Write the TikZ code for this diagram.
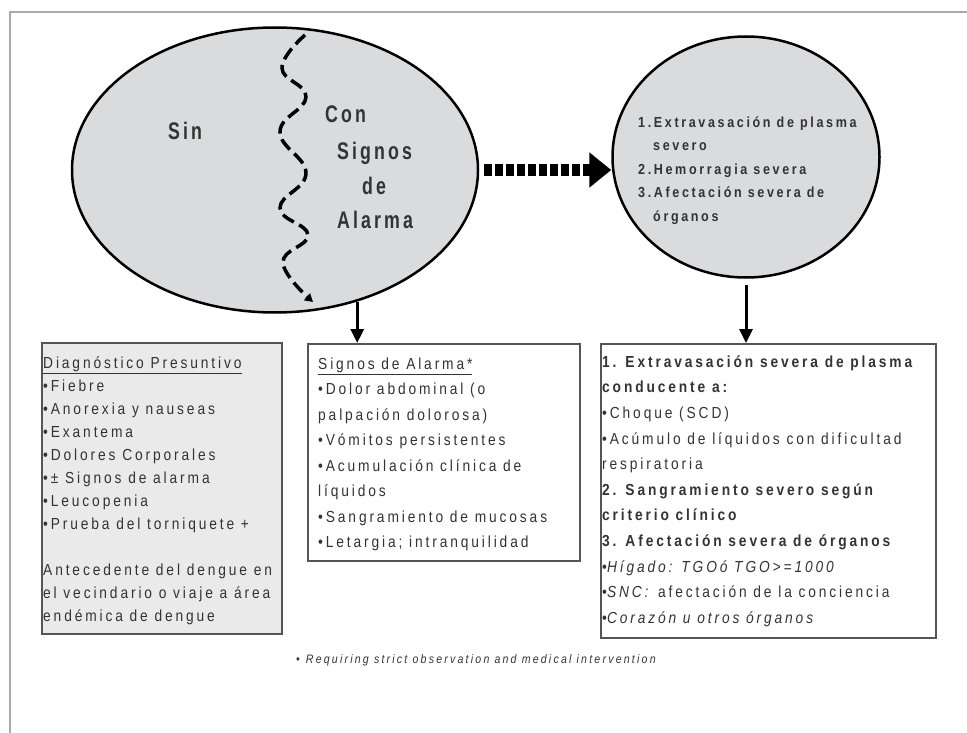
\documentclass[tikz,border=0pt]{standalone}
\usepackage{fontspec}
\usetikzlibrary{shapes.geometric,arrows.meta}
\newfontfamily\nar[FakeStretch=0.86,LetterSpace=18]{Liberation Sans}
\newfontfamily\narL[FakeStretch=0.74,LetterSpace=13]{Liberation Sans}
\definecolor{ellfill}{HTML}{DADBDD}
\definecolor{boxfill}{HTML}{EAEAEA}
\definecolor{txt}{HTML}{333333}
\definecolor{framec}{HTML}{AAAAAA}
\definecolor{boxline}{HTML}{555555}
\tikzset{
  bigell/.style={ellipse, draw=black, line width=2.5pt, fill=ellfill, inner sep=0pt},
  boxr/.style={rectangle, draw=boxline, line width=1.8pt, inner sep=0pt, anchor=north west},
  txtn/.style={anchor=north west, inner sep=0pt, align=left, text=txt},
  lbl/.style={anchor=base west, inner sep=0pt, text=txt, font={\narL\bfseries\fontsize{24pt}{26pt}\selectfont}},
  arr/.style={line width=3pt, -{Triangle[length=14pt,width=13pt]}}
}
\begin{document}
\begin{tikzpicture}[x=1pt,y=-1pt]
\useasboundingbox (0,0) rectangle (967,733);
% frame
\draw[framec, line width=2.5pt] (10,733) -- (10,12) -- (967,12);

% shapes
\node[bigell, minimum width=406pt, minimum height=285pt] (ell1) at (275,170) {};
\node[bigell, minimum width=267pt, minimum height=241pt] (circ) at (746,157) {};

% wavy divider
\draw[line width=3.5pt, dash pattern=on 13pt off 6pt, -{Triangle[length=8pt,width=9pt]}]
  plot[smooth, tension=0.75] coordinates {(305,35) (282,68) (306,97) (280,132) (306,173) (280,208) (308,235) (283,263) (313,302)};

% ellipse labels
\node[lbl] (sin) at (168,140) {Sin};
\node[lbl] (con) at (325,123) {Con};
\node[lbl] (sig) at (337,160) {Signos};
\node[lbl] (de) at (362,195) {de};
\node[lbl] (ala) at (337,228) {Alarma};

% circle text
\node[txtn, font={\nar\bfseries\fontsize{14.6pt}{23.5pt}\selectfont}] (ctext) at (638,115)
 {\rule{0pt}{12pt}1.Extravasación de plasma\\
  \hspace*{15pt}severo\\
  2.Hemorragia severa\\
  3.Afectación severa de\\
  \hspace*{15pt}órganos};

% boxes
\node[boxr, fill=boxfill, minimum width=240pt, minimum height=291pt] (box1) at (41,342) {};
\node[boxr, fill=white, minimum width=272pt, minimum height=217pt] (box2) at (307,343) {};
\node[boxr, fill=white, minimum width=335pt, minimum height=294pt] (box3) at (600,343) {};

\node[txtn, font={\nar\fontsize{16pt}{23pt}\selectfont}] (t1) at (43,356)
 {\rule{0pt}{12pt}\underline{Diagnóstico Presuntivo}\\
  •Fiebre\\
  •Anorexia y nauseas\\
  •Exantema\\
  •Dolores Corporales\\
  •± Signos de alarma\\
  •Leucopenia\\
  •Prueba del torniquete +\\[23pt]
  Antecedente del dengue en\\
  el vecindario o viaje a área\\
  endémica de dengue};

\node[txtn, font={\nar\fontsize{16pt}{25.5pt}\selectfont}] (t2) at (318,357)
 {\rule{0pt}{12pt}\underline{Signos de Alarma*}\\
  •Dolor abdominal (o\\
  palpación dolorosa)\\
  •Vómitos persistentes\\
  •Acumulación clínica de\\
  líquidos\\
  •Sangramiento de mucosas\\
  •Letargia; intranquilidad};

\node[txtn, font={\nar\fontsize{16pt}{25.6pt}\selectfont}] (t3) at (602,355)
 {\rule{0pt}{12pt}\textbf{1. Extravasación severa de plasma}\\
  \textbf{conducente a:}\\
  •Choque (SCD)\\
  •Acúmulo de líquidos con dificultad\\
  respiratoria\\
  \textbf{2. Sangramiento severo según}\\
  \textbf{criterio clínico}\\
  \textbf{3. Afectación severa de órganos}\\
  •\textit{Hígado: TGOó TGO>=1000}\\
  •\textit{SNC:} afectación de la conciencia\\
  •\textit{Corazón u otros órganos}};

% footnote
\node[anchor=base west, inner sep=0pt, text=txt, font={\nar\itshape\fontsize{12.3pt}{14pt}\selectfont}] (fn) at (296,663)
 {•\hspace{6pt}Requiring strict observation and medical intervention};

% connectors
\draw[line width=12pt, dash pattern=on 8pt off 3pt, -{Triangle[length=22pt,width=34pt]}]
  ([xshift=5pt]ell1.east) -- (circ.west |- ell1.east);
\draw[arr] (ell1.-58) -- (ell1.-58 |- box2.north);
\draw[arr, shorten <=6pt] (circ.south) -- (circ.south |- box3.north);
\end{tikzpicture}
\end{document}
